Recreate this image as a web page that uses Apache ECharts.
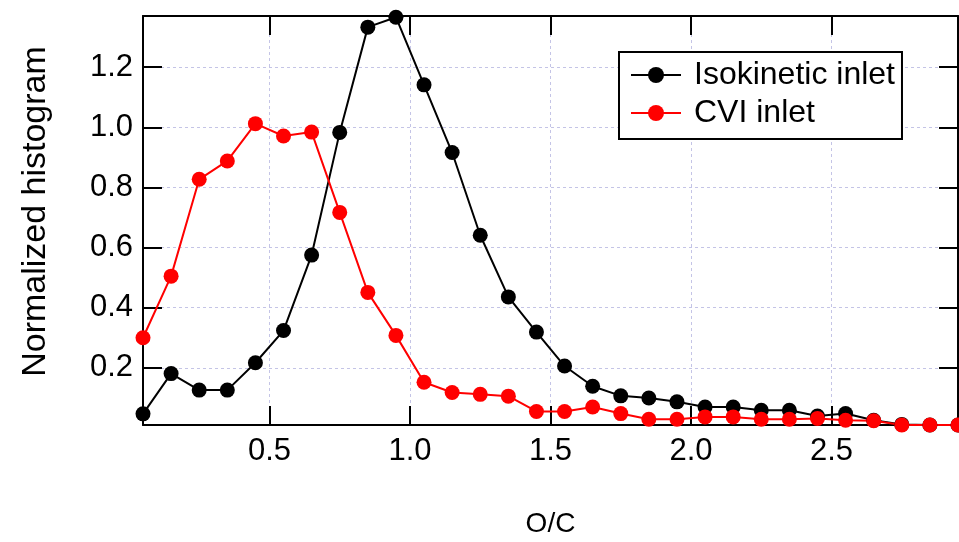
<!DOCTYPE html>
<html>
<head>
<meta charset="utf-8">
<script src="https://cdn.jsdelivr.net/npm/echarts@6/dist/echarts.min.js"></script>
<style>
html,body{margin:0;padding:0;background:#fff;}
#chart{width:959px;height:542px;}
</style>
</head>
<body>
<div id="chart"></div>
<script>
const ocValues = [0.05,0.15,0.25,0.35,0.45,0.55,0.65,0.75,0.85,0.95,1.05,1.15,1.25,1.35,1.45,1.55,1.65,1.75,1.85,1.95,2.05,2.15,2.25,2.35,2.45,2.55,2.65,2.75,2.85,2.95];
const isokinetic = [0.047,0.181,0.126,0.126,0.217,0.324,0.575,0.983,1.333,1.366,1.141,0.916,0.641,0.436,0.319,0.206,0.139,0.107,0.100,0.087,0.070,0.070,0.059,0.059,0.040,0.048,0.026,0.012,0.010,0.010];
const cvi = [0.300,0.505,0.827,0.888,1.012,0.971,0.984,0.717,0.451,0.308,0.152,0.118,0.112,0.106,0.055,0.055,0.070,0.048,0.029,0.029,0.037,0.037,0.029,0.029,0.032,0.026,0.024,0.010,0.010,0.010];
const xTicks = [0.5,1.0,1.5,2.0,2.5];
const yTicks = [0.2,0.4,0.6,0.8,1.0,1.2];
const seriesNames = ['Isokinetic inlet','CVI inlet'];
const xTitle = 'O/C';
const yTitle = 'Normalized histogram';

const FONT = '"Liberation Sans", Arial, Helvetica, sans-serif';
const chart = echarts.init(document.getElementById('chart'), null, {renderer:'canvas'});
const pairs = arr => ocValues.map((x,i)=>[x,arr[i]]);
const gridLine = {show:true, lineStyle:{color:'#c4c4e6', width:1, type:[3,3]}};
const axisLineStyle = {show:true, onZero:false, lineStyle:{color:'#000', width:2}};
const tickStyle = {show:true, inside:true, length:19, lineStyle:{color:'#000', width:2}};

chart.setOption({
  animation:false,
  backgroundColor:'#fff',
  grid:{left:143, top:16, right:1, bottom:117, containLabel:false, outerBoundsMode:'none'},
  legend:{
    show:true, orient:'vertical', left:619, top:52,
    padding:[7,7,10,11], itemGap:6, itemWidth:50, itemHeight:20,
    backgroundColor:'#fff', borderColor:'#000', borderWidth:2,
    textStyle:{fontFamily:FONT, fontSize:32, color:'#000', lineHeight:30, padding:[0,0,0,8]},
    data:seriesNames
  },
  xAxis:[{
    type:'value', min:0.05, max:2.95, position:'bottom',
    axisLine:axisLineStyle,
    axisTick:Object.assign({customValues:xTicks}, tickStyle),
    axisLabel:{customValues:xTicks, formatter:v=>v.toFixed(1), fontFamily:FONT, fontSize:31, color:'#000', margin:11},
    splitLine:gridLine,
    name:xTitle, nameLocation:'middle', nameGap:85,
    nameTextStyle:{fontFamily:FONT, fontSize:28, color:'#000'}
  },{
    type:'value', min:0.05, max:2.95, position:'top',
    axisLine:axisLineStyle,
    axisTick:Object.assign({customValues:xTicks}, tickStyle),
    axisLabel:{show:false}, splitLine:{show:false}
  }],
  yAxis:[{
    type:'value', min:0.01, max:1.37, position:'left',
    axisLine:axisLineStyle,
    axisTick:Object.assign({customValues:yTicks}, tickStyle),
    axisLabel:{customValues:yTicks, formatter:v=>v.toFixed(1), fontFamily:FONT, fontSize:31, color:'#000', margin:10},
    splitLine:gridLine,
    name:yTitle, nameLocation:'middle', nameGap:90,
    nameTextStyle:{fontFamily:FONT, fontSize:34, color:'#000', padding:[0,0,0,18]}
  },{
    type:'value', min:0.01, max:1.37, position:'right',
    axisLine:axisLineStyle,
    axisTick:Object.assign({customValues:yTicks}, tickStyle),
    axisLabel:{show:false}, splitLine:{show:false}
  }],
  series:[{
    name:seriesNames[0], type:'line', data:pairs(isokinetic),
    symbol:'circle', symbolSize:15, showAllSymbol:true, clip:false,
    lineStyle:{color:'#000', width:2}, itemStyle:{color:'#000'}
  },{
    name:seriesNames[1], type:'line', data:pairs(cvi),
    symbol:'circle', symbolSize:15, showAllSymbol:true, clip:false,
    lineStyle:{color:'#ff0000', width:2}, itemStyle:{color:'#ff0000'}
  }]
});
</script>
</body>
</html>
